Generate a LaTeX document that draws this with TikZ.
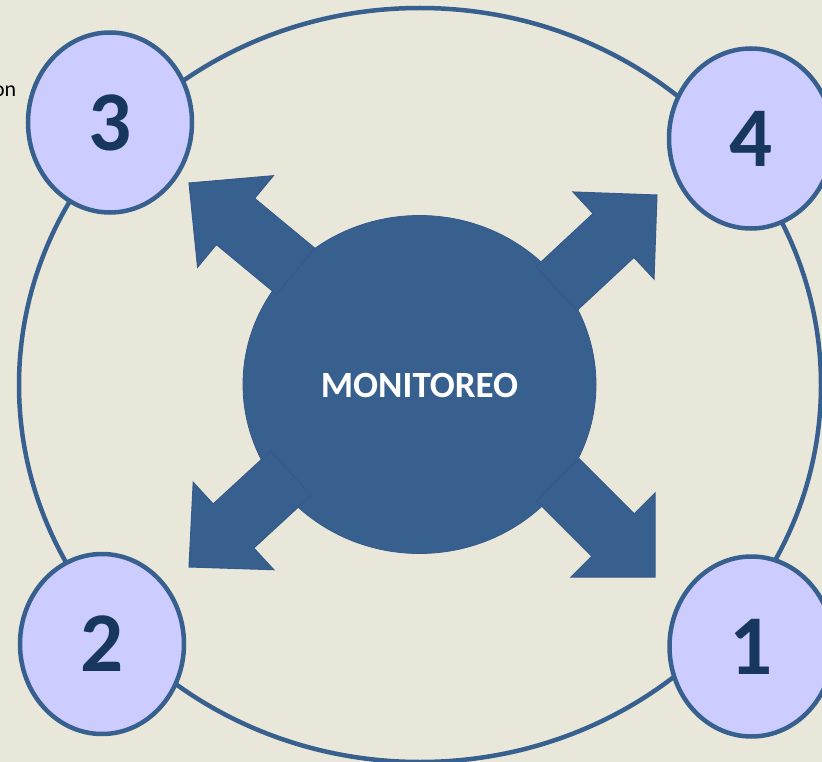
\documentclass[tikz,border=0pt]{standalone}
\usepackage{fontspec}
\setmainfont{Carlito}
\usetikzlibrary{calc,shapes.geometric}
\definecolor{bgc}{HTML}{E9E7DA}
\definecolor{blu}{HTML}{38608F}
\definecolor{blub}{HTML}{35598A}
\definecolor{lav}{HTML}{CCCCFF}
\definecolor{navy}{HTML}{17375E}
\newcommand\thickarrow[1]{%
  \filldraw[arrowfill] (#1T)
    -- ($(#1B)!59.5pt!90:(#1T)$) -- ($(#1B)!30pt!90:(#1T)$)
    -- ($(#1E)!30pt!90:(#1T)$) -- ($(#1E)!30pt!-90:(#1T)$)
    -- ($(#1B)!30pt!-90:(#1T)$) -- ($(#1B)!59.5pt!-90:(#1T)$) -- cycle;}
\begin{document}
\begin{tikzpicture}[x=1pt,y=-1pt,
  ring/.style={draw=blu,line width=4.5pt},
  stagenode/.style={ellipse,draw=blu,line width=4.5pt,fill=lav,inner sep=0pt,
    minimum width=164pt,minimum height=180pt,text=navy,
    font=\fontsize{85}{85}\selectfont\bfseries},
  hub/.style={ellipse,fill=blu,draw=blub,line width=0.8pt,inner sep=0pt,
    minimum width=353pt,minimum height=338pt,text=white,
    font=\fontsize{37}{37}\selectfont\bfseries},
  arrowfill/.style={fill=blu,draw=blub,line width=1pt,line join=miter},
  sidetext/.style={anchor=base east,inner sep=0pt,text=black,
    font=\fontsize{22}{22}\selectfont}]
\useasboundingbox (0,0) rectangle (822,762);
\fill[bgc] (0,0) rectangle (822,762);
% outer ring
\draw[ring] (420,385) ellipse [x radius=401pt, y radius=377pt];
% cut-off text
\node[sidetext] (cut) at (16.5,97) {on};
% stage circles
\node[stagenode] (s3) at (110,122.5) {3};
\node[stagenode] (s4) at (751,138.5) {4};
\node[stagenode] (s2) at (102,644) {2};
\node[stagenode] (s1) at (751.5,646.5) {1};
% hub
\node[hub] (hub) at (419.5,384.5) {};
% arrows
\coordinate (ulT) at (189,183);   \coordinate (ulB) at (235.5,221.5);
\coordinate (urT) at (657,195);   \coordinate (urB) at (613.5,235.5);
\coordinate (llT) at (189,567);   \coordinate (llB) at (233.5,526);
\coordinate (lrT) at (655,577);   \coordinate (lrB) at (613,535);
\coordinate (ulE) at ($(ulB)!-78pt!(ulT)$);
\coordinate (urE) at ($(urB)!-78pt!(urT)$);
\coordinate (llE) at ($(llB)!-78pt!(llT)$);
\coordinate (lrE) at ($(lrB)!-78pt!(lrT)$);
\thickarrow{ul}
\thickarrow{ur}
\thickarrow{ll}
\thickarrow{lr}
\node[text=white,inner sep=0pt,font=\fontsize{37}{37}\selectfont\bfseries] (label) at (419.5,385) {MONITOREO};
\end{tikzpicture}
\end{document}
